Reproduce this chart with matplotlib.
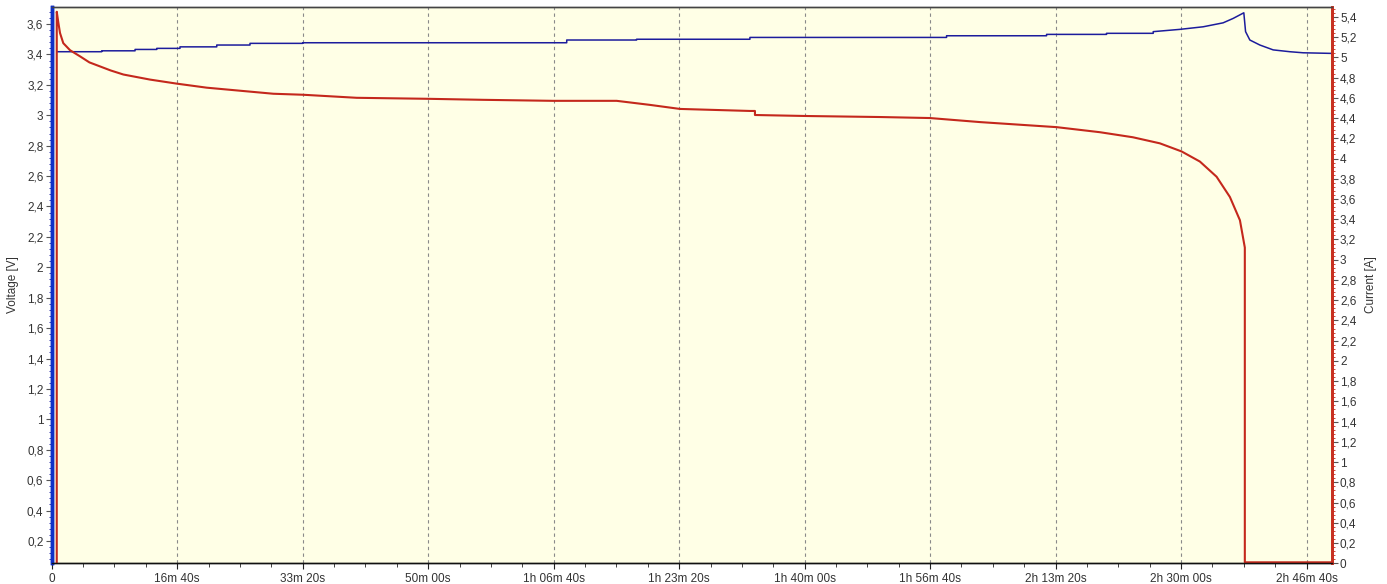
import numpy as np
import matplotlib
matplotlib.use("Agg")
import matplotlib.pyplot as plt
from matplotlib.ticker import MultipleLocator, FuncFormatter

plt.rcParams['font.family'] = ['Liberation Sans', 'DejaVu Sans']

# voltage (left axis, blue) - time in seconds
volt_t = [40, 398, 398, 664, 664, 837, 837, 1022, 1022, 1315, 1315, 1580, 1580, 2000, 2000,
          4104, 4104, 4661, 4661, 5564, 5564, 7131, 7131, 7928, 7928, 8406, 8406, 8778, 8778,
          8990, 9176, 9335, 9415, 9500, 9514, 9548, 9628, 9734, 9867, 9973, 10199]
volt_v = [3.418, 3.418, 3.424, 3.424, 3.433, 3.433, 3.440, 3.440, 3.450, 3.450, 3.462, 3.462,
          3.473, 3.473, 3.477, 3.477, 3.495, 3.495, 3.500, 3.500, 3.512, 3.512, 3.523, 3.523,
          3.532, 3.532, 3.539, 3.539, 3.550, 3.565, 3.582, 3.608, 3.637, 3.674, 3.550, 3.495,
          3.462, 3.430, 3.418, 3.411, 3.407]

# current (right axis, red)
curr_t = [40, 40, 53, 66, 92, 146, 225, 300, 385, 470, 571, 783, 996, 1235, 1500, 1766, 2005,
          2430, 3001, 3437, 3994, 4502, 4767, 5006, 5564, 5604, 5604, 6016, 6600, 6998, 7397,
          8008, 8353, 8616, 8831, 9004, 9150, 9283, 9389, 9469, 9508, 9508, 10199]
curr_a = [0.0, 5.45, 5.34, 5.24, 5.14, 5.07, 5.01, 4.95, 4.91, 4.87, 4.83, 4.78, 4.74, 4.70,
          4.67, 4.64, 4.63, 4.60, 4.59, 4.58, 4.57, 4.57, 4.53, 4.49, 4.47, 4.47, 4.43, 4.42,
          4.41, 4.40, 4.36, 4.31, 4.26, 4.21, 4.15, 4.07, 3.97, 3.82, 3.62, 3.39, 3.12, 0.01,
          0.01]

x_ticks = np.arange(0, 10001, 1000)


def fmt_time(t, pos=None):
    t = int(round(t))
    if t == 0:
        return "0"
    h, rest = divmod(t, 3600)
    m, s = divmod(rest, 60)
    if h == 0:
        return f"{m}m {s:02d}s"
    return f"{h}h {m:02d}m {s:02d}s"


def fmt_num(v, pos=None):
    return ("%g" % round(v, 1)).replace(".", ",")


fig = plt.figure(figsize=(13.87, 5.84), dpi=100)
ax = fig.add_axes([0.0373, 0.0354, 0.9228, 0.9531])
ax.set_facecolor("#FFFFE6")
ax2 = ax.twinx()

blue = "#1c1c9c"
red = "#c4281c"

ax.plot(volt_t, volt_v, color=blue, lw=1.1)
ax2.plot(curr_t, curr_a, color=red, lw=1.5)

ax.set_xlim(0, 10200)
ax.set_ylim(0.053, 3.714)
ax2.set_ylim(0, 5.5)

ax.set_xticks(x_ticks)
ax.xaxis.set_major_formatter(FuncFormatter(fmt_time))
ax.xaxis.set_minor_locator(MultipleLocator(250))
ax.yaxis.set_major_locator(MultipleLocator(0.2))
ax.yaxis.set_minor_locator(MultipleLocator(0.04))
ax.yaxis.set_major_formatter(FuncFormatter(fmt_num))
ax2.yaxis.set_major_locator(MultipleLocator(0.2))
ax2.yaxis.set_minor_locator(MultipleLocator(0.04))
ax2.yaxis.set_major_formatter(FuncFormatter(fmt_num))

for v in x_ticks[1:]:
    ax.axvline(v, color="#8a8a8a", lw=0.8, ls=(0, (3, 3)), zorder=0.5)

lbl = dict(labelsize=8.5, labelcolor="#333333")
ax.tick_params(axis="x", which="major", length=4, color="#222222", pad=3, **lbl)
ax.tick_params(axis="x", which="minor", length=3, color="#222222")
ax.tick_params(axis="y", which="major", length=4, color="#555555", pad=2, **lbl)
ax.tick_params(axis="y", which="minor", length=2, color=blue)
ax2.tick_params(axis="y", which="major", length=4, color="#555555", pad=2, **lbl)
ax2.tick_params(axis="y", which="minor", length=2, color=red)

ax.set_ylabel("Voltage [V]", fontsize=8.5, color="#333333", labelpad=6)
ax2.set_ylabel("Current [A]", fontsize=8.5, color="#333333", labelpad=6, rotation=90)

for a in (ax, ax2):
    a.spines["left"].set_color("#1030c8")
    a.spines["left"].set_linewidth(2.5)
    a.spines["right"].set_color("#c83020")
    a.spines["right"].set_linewidth(2.0)
    a.spines["top"].set_color("#444444")
    a.spines["top"].set_linewidth(1.0)
    a.spines["bottom"].set_color("#111111")
    a.spines["bottom"].set_linewidth(1.0)

fig.savefig("out.png", dpi=100, facecolor="white")
